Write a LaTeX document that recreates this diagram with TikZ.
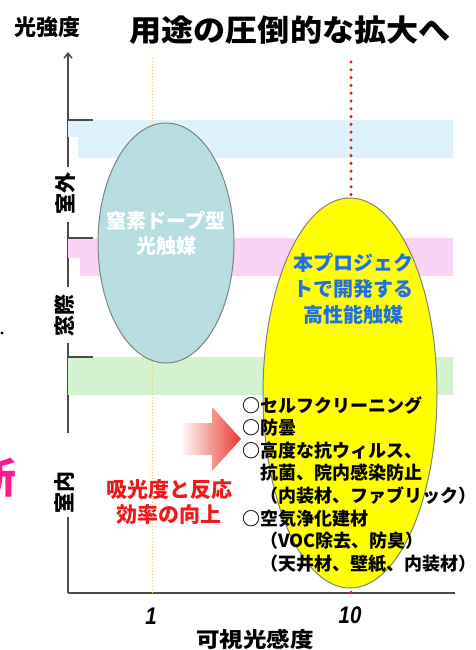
\documentclass[tikz,border=0pt]{standalone}
\usepackage{fontspec}
\setmainfont{Noto Sans CJK JP}
\newfontfamily\jpblack{Noto Sans CJK JP Black}
\newfontfamily\numfont{Liberation Sans}
\usetikzlibrary{shapes.geometric,arrows.meta}
\definecolor{bandblue}{HTML}{DDF2FB}
\definecolor{bandpink}{HTML}{FAD2F6}
\definecolor{bandgreen}{HTML}{D3F2D0}
\definecolor{dotyellow}{HTML}{F2CC30}
\definecolor{dotred}{HTML}{E02020}
\definecolor{ellteal}{HTML}{B8DDE0}
\definecolor{ellyellow}{HTML}{FFFF00}
\definecolor{projblue}{HTML}{1F6FE8}
\definecolor{arrowred}{HTML}{E8392E}
\definecolor{textred}{HTML}{F01818}
\definecolor{pinktxt}{HTML}{FF1A8C}
\definecolor{axisgray}{HTML}{4A4A4A}
\tikzset{
  axisline/.style={draw=axisgray, line width=1.5pt},
  ticks/.style={draw=axisgray, line width=1.5pt},
  axlabel/.style={rotate=90, fill=white, inner sep=1pt, font={\fontsize{21}{21}\selectfont\jpblack}},
  ell/.style={ellipse, draw=gray, line width=1pt, inner sep=0pt},
  num/.style={font={\fontsize{24}{24}\selectfont\numfont\bfseries\itshape}},
}
\begin{document}
\begin{tikzpicture}[x=1pt,y=-1pt]
\useasboundingbox (0,0) rectangle (475,650);
% axis (under bands)
\draw[axisline,-{Straight Barb[length=5pt,width=8pt]}] (68,167) coordinate (ya) -- (68,52) coordinate (ytop);
\draw[axisline] (68,222) -- (68,287);
\draw[axisline] (68,343) -- (68,433);
\draw[axisline] (68,517) coordinate (yb) -- (68,593) coordinate (origin);
% bands
\fill[bandblue] (68,120) rectangle (453,137);
\fill[bandblue] (78,137) rectangle (453,158);
\fill[bandpink] (68,238) rectangle (453,258);
\fill[bandpink] (80,258) rectangle (453,276);
\fill[bandgreen] (68,357) rectangle (453,395);
% ticks
\draw[ticks] (68,120) -- (93,120);
\draw[ticks] (68,238) -- (93,238);
\draw[ticks] (68,357) -- (93,357);
% x axis
\coordinate (xend) at (455,593);
\draw[axisline] (origin) -- (xend);
% dotted lines
\coordinate (y1top) at (152,58);
\coordinate (y1bot) at (152,593);
\draw[dotyellow, line width=1pt, dotted] (y1top) -- (y1bot);
\coordinate (r1top) at (351,62);
\coordinate (r1bot) at (351,593);
\draw[dotred, line width=3.4pt, line cap=round, dash pattern=on 0pt off 7.8pt] (r1top) -- (r1bot);
% ellipses
\node[ell, fill=ellteal, minimum width=136pt, minimum height=240pt] (nitro) at (166,243) {};
\node[ell, fill=ellyellow, minimum width=174pt, minimum height=390pt] (proj) at (350,393) {};
% ellipse texts
\node[align=center, text=white, inner sep=0pt, font={\fontsize{20}{25}\selectfont\jpblack}] (nitrotxt) at (166,233) {窒素ドープ型\\光触媒};
\node[align=center, text=projblue, inner sep=0pt, font={\fontsize{20}{26}\selectfont\jpblack}] (projtxt) at (353,289) {本プロジェク\\トで開発する\\高性能触媒};
% arrow
\shade[left color=white, right color=arrowred] (180,423) -- (212,423) -- (212,407) -- (241,439) -- (212,471) -- (212,455) -- (180,455) -- cycle;
\node[inner sep=0pt] (arrowtip) at (241,439) {};
% red text
\node[align=center, text=textred, inner sep=0pt, font={\fontsize{21}{25}\selectfont\jpblack}] (gain) at (169,502) {吸光度と反応\\効率の向上};
% list
\node[anchor=north west, align=left, inner sep=0pt, font={\fontsize{18}{22.6}\selectfont\jpblack}] (uses) at (242,396) {○セルフクリーニング\\○防曇\\○高度な抗ウィルス、\\\phantom{○}抗菌、院内感染防止\\\phantom{○}（内装材、ファブリック）\\○空気浄化建材\\\phantom{○}（VOC除去、防臭）\\\phantom{○}（天井材、壁紙、内装材）};
% axis labels
\node[axlabel] (out) at (65,193) {室外};
\node[axlabel] (win) at (65,315) {窓際};
\node[axlabel] (inr) at (65,492) {室内};
\node[font={\fontsize{22}{22}\selectfont\jpblack}, inner sep=0pt] (ylab) at (47,27) {光強度};
\node[font={\fontsize{30}{30}\selectfont\jpblack}, inner sep=0pt] (title) at (290,30) {\scalebox{1.07}[1]{用途の圧倒的な拡大へ}};
\node[num, inner sep=0pt] (one) at (151,616) {\scalebox{0.85}[1]{1}};
\node[num, inner sep=0pt] (ten) at (350,615) {\scalebox{0.85}[1]{10}};
\node[font={\fontsize{21}{21}\selectfont\jpblack}, inner sep=0pt] (xlab) at (255,639) {\scalebox{1.12}[1]{可視光感度}};
% clipped fragments at left edge
\begin{scope}
\clip (0,0) rectangle (475,650);
\node[anchor=east, text=pinktxt, inner sep=0pt, font={\fontsize{42}{42}\selectfont\jpblack}] (frag) at (17,478) {新};
\fill[black] (2,333) circle (1.6);
\end{scope}
\end{tikzpicture}
\end{document}
